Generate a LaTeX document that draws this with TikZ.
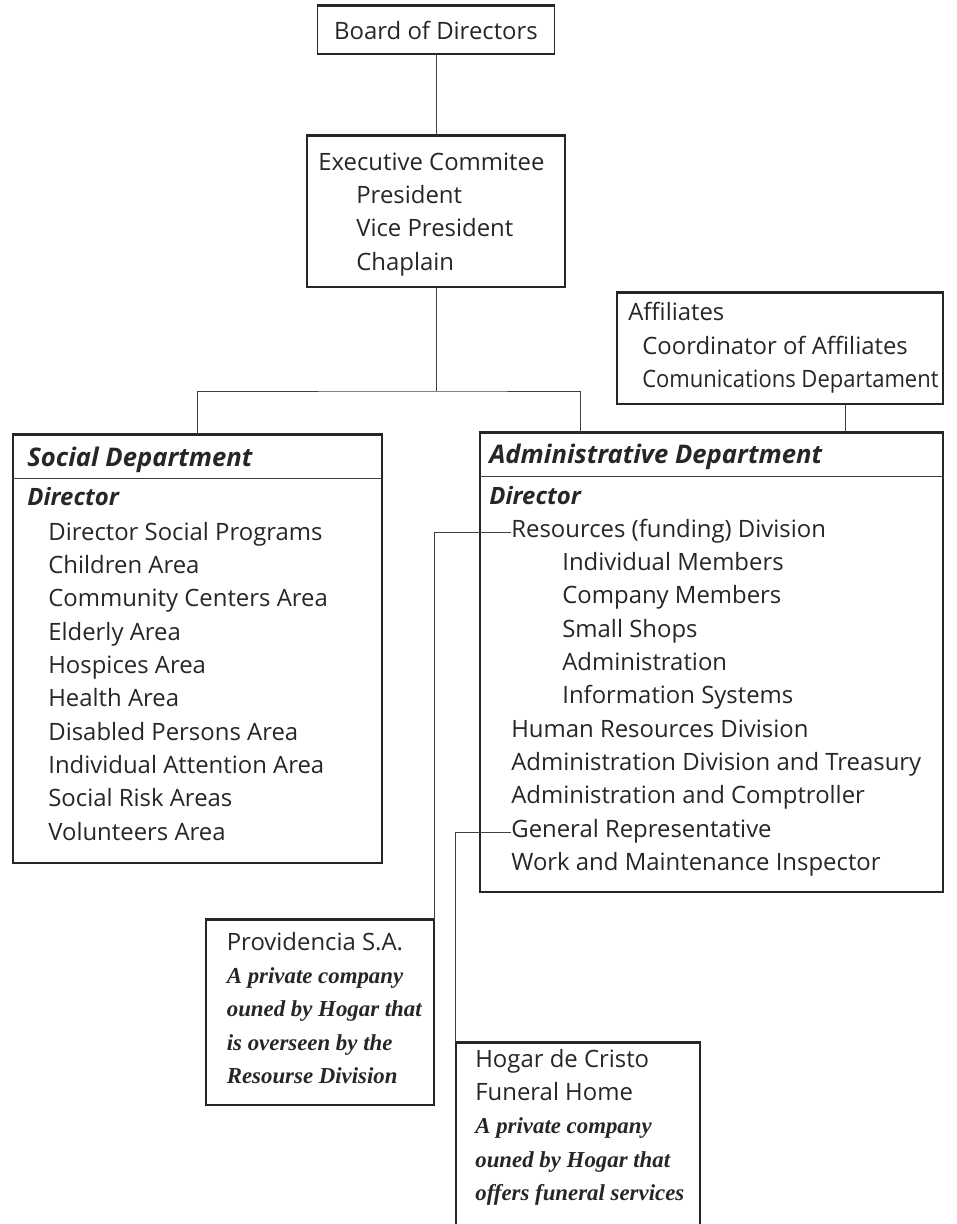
\documentclass[tikz,border=0pt]{standalone}
\usepackage{fontspec}
\setmainfont{Open Sans}
\newfontfamily\notefont{Liberation Serif}
\begin{document}
\begin{tikzpicture}[
  font=\fontsize{13.6}{16}\selectfont, text=black!85,
  box/.style={draw=black!85, line width=0.7pt, rectangle, inner sep=0pt,
    append after command={(\tikzlastnode.north west) edge[draw=black!85, line width=1.3pt] (\tikzlastnode.north east)}},
  txt/.style={anchor=base west, inner sep=0pt},
  head/.style={txt, font=\fontsize{14.6}{17}\selectfont\bfseries\itshape},
  dir/.style={txt, font=\fontsize{13.6}{16}\selectfont\bfseries\itshape},
  note/.style={txt, font=\notefont\fontsize{13}{16}\selectfont\bfseries\itshape},
  link/.style={draw=black!75, line width=0.55pt}
]
\useasboundingbox (0,0) rectangle (19.14,-24.48);

% top of the chart
\node[box, minimum width=4.74cm, minimum height=0.96cm] (board) at (8.72,-0.60) {Board of Directors};
\node[box, minimum width=5.16cm, minimum height=3.02cm] (exec) at (8.72,-4.23) {};
\node[txt] (ec) at (6.36,-3.40) {Executive Commitee};
\node[txt] (pres) at (7.12,-4.07) {President};
\node[txt] (vp) at (7.12,-4.73) {Vice President};
\node[txt] (chap) at (7.12,-5.40) {Chaplain};

\node[box, minimum width=6.52cm, minimum height=2.22cm] (aff) at (15.60,-6.97) {};
\node[txt] (afft) at (12.56,-6.41) {Affiliates};
\node[txt] (coord) at (12.84,-7.08) {Coordinator of Affiliates};
\node[txt, xscale=0.92, transform shape] (comm) at (12.84,-7.75) {Comunications Departament};

% social department
\node[box, minimum width=7.38cm, minimum height=8.56cm] (soc) at (3.95,-12.98) {};
\draw[link] ([yshift=-0.88cm]soc.north west) -- ([yshift=-0.88cm]soc.north east);
\node[head] (sochd) at (0.54,-9.32) {Social Department};
\node[dir] (socdir) at (0.54,-10.11) {Director};
\node[txt] (dsp) at (0.96,-10.80) {Director Social Programs};
\node[txt] (child) at (0.96,-11.47) {Children Area};
\node[txt] (ccen) at (0.96,-12.13) {Community Centers Area};
\node[txt] (eld) at (0.96,-12.80) {Elderly Area};
\node[txt] (hosp) at (0.96,-13.47) {Hospices Area};
\node[txt] (health) at (0.96,-14.13) {Health Area};
\node[txt] (dis) at (0.96,-14.80) {Disabled Persons Area};
\node[txt] (ind) at (0.96,-15.47) {Individual Attention Area};
\node[txt] (risk) at (0.96,-16.13) {Social Risk Areas};
\node[txt] (vol) at (0.96,-16.80) {Volunteers Area};

% administrative department
\node[box, minimum width=9.26cm, minimum height=9.18cm] (adm) at (14.23,-13.25) {};
\draw[link] ([yshift=-0.88cm]adm.north west) -- ([yshift=-0.88cm]adm.north east);
\node[head] (admhd) at (9.78,-9.27) {Administrative Department};
\node[dir] (admdir) at (9.78,-10.08) {Director};
\node[txt] (res) at (10.22,-10.74) {Resources (funding) Division};
\node[txt] (indm) at (11.24,-11.41) {Individual Members};
\node[txt] (compm) at (11.24,-12.07) {Company Members};
\node[txt] (shops) at (11.24,-12.74) {Small Shops};
\node[txt] (admin) at (11.24,-13.41) {Administration};
\node[txt] (info) at (11.24,-14.07) {Information Systems};
\node[txt] (hr) at (10.22,-14.74) {Human Resources Division};
\node[txt] (treas) at (10.22,-15.41) {Administration Division and Treasury};
\node[txt] (comp) at (10.22,-16.07) {Administration and Comptroller};
\node[txt] (rep) at (10.22,-16.74) {General Representative};
\node[txt] (work) at (10.22,-17.41) {Work and Maintenance Inspector};

% private companies
\node[box, minimum width=4.56cm, minimum height=3.70cm] (prov) at (6.40,-20.25) {};
\node[txt] (provt) at (4.53,-19.00) {Providencia S.A.};
\node[note] (pn1) at (4.53,-19.67) {A private company};
\node[note] (pn2) at (4.53,-20.33) {ouned by Hogar that};
\node[note] (pn3) at (4.53,-21.00) {is overseen by the};
\node[note] (pn4) at (4.53,-21.67) {Resourse Division};

\node[box, minimum width=4.88cm, minimum height=4.14cm] (home) at (11.56,-22.93) {};
\node[txt] (homet) at (9.50,-21.34) {Hogar de Cristo};
\node[txt] (homef) at (9.50,-22.01) {Funeral Home};
\node[note] (hn1) at (9.50,-22.67) {A private company};
\node[note] (hn2) at (9.50,-23.34) {ouned by Hogar that};
\node[note] (hn3) at (9.50,-24.01) {offers funeral services};

% connectors
\coordinate (fork) at (8.72,-7.82);
\coordinate (admtap) at (11.60,-8.66);
\coordinate (afftap) at (16.90,-8.08);
\draw[link] (board) -- (exec);
\draw[link] (exec) -- (fork);
\draw[link] (soc.north) |- (fork) -| (admtap);
\draw[link] (afftap) -- (afftap |- adm.north);
\draw[link] (res.mid west) -| (prov.north east);
\draw[link] (rep.mid west) -| (home.north west);
\end{tikzpicture}
\end{document}
